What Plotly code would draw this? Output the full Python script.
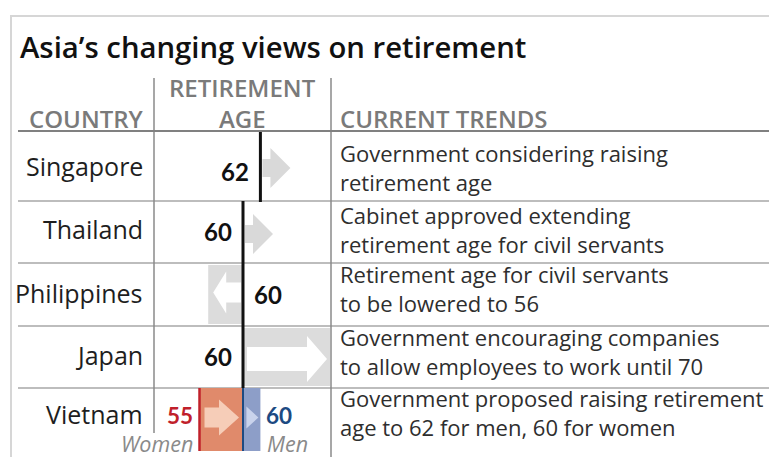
import plotly.graph_objects as go

# ---- data -------------------------------------------------------------
countries = ["Singapore", "Thailand", "Philippines", "Japan", "Vietnam"]
retirement_age = [62, 60, 60, 60, 60]          # Vietnam: men
proposed_age = [None, None, 56, 70, 62]        # None = raise under discussion, no figure
vietnam_women_age = 55
vietnam_women_proposed = 60
trends = [
    "Government considering raising<br>retirement age",
    "Cabinet approved extending<br>retirement age for civil servants",
    "Retirement age for civil servants<br>to be lowered to 56",
    "Government encouraging companies<br>to allow employees to work until 70",
    "Government proposed raising retirement<br>age to 62 for men, 60 for women",
]

# ---- layout constants (pixels) ----------------------------------------
W, H = 769, 457
FONT = "Open Sans"
NUM_FONT = "Lato"
row_edges = [131, 201, 263, 326, 388, 451]
label_y = [166, 229, 293, 355, 414]
value_y = [171, 231, 294, 356, 415]
trend_y = [167.5, 229.5, 288.5, 351.5, 412.5]
COL1, COL2 = 154, 331
AGE_REF, AGE_REF_PX, PX_PER_YEAR = 60, 243, 8.7
age_range = [AGE_REF - (AGE_REF_PX - COL1) / PX_PER_YEAR,
             AGE_REF + (COL2 - AGE_REF_PX) / PX_PER_YEAR]

GRAY_BOX = "#dcdcdc"
GRAY_ARROW = "#d9d9d9"
ORANGE = "#e08a6b"
PEACH = "#f6cdb8"
BLUE_BOX = "#8d9ec8"
LIGHT_BLUE = "#c9d3ec"
RED = "#c0202a"
NAVY = "#1d4a82"


def px(x):
    return x / W


def yrs(p):
    return p / PX_PER_YEAR


def arrow(x0, x1, yc, stem=10, head=21, head_len=18):
    """Block arrow from age x0 to age x1 centred on pixel row yc."""
    d = 1 if x1 > x0 else -1
    xb = x1 - d * yrs(head_len)
    xs = [x0, xb, xb, x1, xb, xb, x0, x0]
    ys = [yc - stem, yc - stem, yc - head, yc, yc + head, yc + stem, yc + stem, yc - stem]
    return xs, ys


fig = go.Figure()
shapes = []
ann = []


def add_bar(start, end, yc, height, color):
    fig.add_trace(go.Bar(orientation="h", base=[start], x=[end - start], y=[yc],
                         width=[height], marker=dict(color=color, line=dict(width=0)),
                         hoverinfo="skip", showlegend=False))


def add_arrow(xs, ys, color):
    fig.add_trace(go.Scatter(x=xs, y=ys, mode="lines", fill="toself", fillcolor=color,
                             line=dict(width=0, color=color), hoverinfo="skip",
                             showlegend=False))


for i, name in enumerate(countries):
    top, bot = row_edges[i], row_edges[i + 1]
    yc = (top + bot) / 2
    cur = retirement_age[i]
    new = proposed_age[i]

    if name == "Vietnam":
        add_bar(vietnam_women_age, vietnam_women_proposed, yc, bot - top, ORANGE)
        add_bar(cur, new, yc, bot - top, BLUE_BOX)
        xs, ys = arrow(vietnam_women_age + yrs(5), vietnam_women_proposed - yrs(4), yc - 2,
                       stem=10, head=18, head_len=20)
        add_arrow(xs, ys, PEACH)
        xs, ys = arrow(cur + yrs(3), new - yrs(2), yc - 2, stem=0, head=11, head_len=12)
        add_arrow(xs, ys, LIGHT_BLUE)
        shapes.append(dict(type="line", xref="x", yref="y", x0=vietnam_women_age,
                           x1=vietnam_women_age, y0=top, y1=bot,
                           line=dict(color=RED, width=2.5)))
        shapes.append(dict(type="line", xref="x", yref="y", x0=cur, x1=cur, y0=top, y1=bot,
                           line=dict(color=NAVY, width=2)))
        ann += [
            dict(x=vietnam_women_age, y=value_y[i], xref="x", yref="y", xshift=-6,
                 xanchor="right", yanchor="middle", text=f"<b>{vietnam_women_age}</b>",
                 font=dict(family=NUM_FONT, size=22.5, color=RED), showarrow=False,
                 borderpad=0),
            dict(x=new, y=value_y[i], xref="x", yref="y", xshift=5,
                 xanchor="left", yanchor="middle", text=f"<b>{cur}</b>",
                 font=dict(family=NUM_FONT, size=22.5, color=NAVY), showarrow=False,
                 borderpad=0),
            dict(x=vietnam_women_age, y=443, xref="x", yref="y", xshift=-6,
                 xanchor="right", yanchor="middle", text="<i>Women</i>",
                 font=dict(family=FONT, size=21.5, color="#8a8a8a"), showarrow=False,
                 borderpad=0),
            dict(x=new, y=443, xref="x", yref="y", xshift=6,
                 xanchor="left", yanchor="middle", text="<i>Men</i>",
                 font=dict(family=FONT, size=21.5, color="#8a8a8a"), showarrow=False,
                 borderpad=0),
        ]
    else:
        if new is None:
            xs, ys = arrow(cur + yrs(2), cur + yrs(30), yc + 2, stem=9, head=20, head_len=20)
            add_arrow(xs, ys, GRAY_ARROW)
        elif new > cur:
            add_bar(cur, new, yc, bot - top - 4, GRAY_BOX)
            xs, ys = arrow(cur + yrs(4), new - yrs(3), yc + 2, stem=12, head=23, head_len=20)
            add_arrow(xs, ys, "white")
        else:
            add_bar(new, cur, yc, bot - top - 4, GRAY_BOX)
            xs, ys = arrow(cur - yrs(2), new + yrs(5), yc - 2, stem=10, head=21, head_len=13)
            add_arrow(xs, ys, "white")

        shapes.append(dict(type="line", xref="x", yref="y", x0=cur, x1=cur,
                           y0=top, y1=bot + (1 if i == 0 else 0),
                           line=dict(color="#111111", width=3)))
        falling = new is not None and new < cur
        ann.append(dict(x=cur, y=value_y[i], xref="x", yref="y",
                        xshift=9 if falling else -9,
                        xanchor="left" if falling else "right", yanchor="middle",
                        text=f"<b>{cur}</b>",
                        font=dict(family=NUM_FONT, size=24, color="#111111"),
                        showarrow=False))

    ann.append(dict(x=px(145), y=label_y[i], xref="paper", yref="y", xanchor="right",
                    yanchor="middle", text=name, showarrow=False,
                    font=dict(family=FONT, size=25, color="#1e1e1e")))
    ann.append(dict(x=px(339), y=trend_y[i], xref="paper", yref="y",
                    xanchor="left", yanchor="middle", align="left", text=trends[i],
                    showarrow=False, borderpad=0,
                    font=dict(family=FONT, size=22, color="#2e2e2e")))

# ---- table rules --------------------------------------------------------
shapes.append(dict(type="rect", xref="paper", yref="y", x0=px(11), x1=px(790), y0=16, y1=480,
                   line=dict(color="#d6d6d6", width=2), layer="below"))
for y in row_edges[1:-1]:
    shapes.append(dict(type="line", xref="paper", yref="y", x0=px(18), x1=1, y0=y, y1=y,
                       line=dict(color="#bdbdbd", width=2), layer="below"))
shapes.append(dict(type="line", xref="paper", yref="y", x0=px(18), x1=1,
                   y0=row_edges[0], y1=row_edges[0], line=dict(color="#808080", width=2)))
shapes.append(dict(type="line", xref="paper", yref="y", x0=px(COL1), x1=px(COL1), y0=78, y1=433,
                   line=dict(color="#8a8a8a", width=1.5), layer="below"))
shapes.append(dict(type="line", xref="paper", yref="y", x0=px(COL2), x1=px(COL2), y0=78, y1=460,
                   line=dict(color="#8a8a8a", width=1.5), layer="below"))

# ---- headings -------------------------------------------------------------
head_font = dict(family=FONT, size=24, color="#7a7a7a", weight=600)
ann += [
    dict(x=px(18), y=47, xref="paper", yref="y", xanchor="left", yanchor="middle",
         text="Asia’s changing views on retirement", showarrow=False,
         font=dict(family=FONT, size=29.3, color="#111111", weight=600)),
    dict(x=px(145), y=118, xref="paper", yref="y", xanchor="right", yanchor="middle",
         text="COUNTRY", showarrow=False, font=head_font, borderpad=0),
    dict(x=px(242), y=87, xref="paper", yref="y", xanchor="center", yanchor="middle",
         text="RETIREMENT", showarrow=False, font=head_font, borderpad=0),
    dict(x=px(242), y=118.5, xref="paper", yref="y", xanchor="center", yanchor="middle",
         text="AGE", showarrow=False, font=head_font, borderpad=0),
    dict(x=px(339), y=118, xref="paper", yref="y", xanchor="left", yanchor="middle",
         text="CURRENT TRENDS", showarrow=False, font=head_font, borderpad=0),
]

fig.update_layout(
    width=W, height=H, margin=dict(l=0, r=0, t=0, b=0),
    paper_bgcolor="white", plot_bgcolor="rgba(0,0,0,0)",
    barmode="overlay", showlegend=False,
    xaxis=dict(domain=[px(COL1), px(COL2)], range=age_range, visible=False,
               fixedrange=True),
    yaxis=dict(domain=[0, 1], range=[H, 0], visible=False, fixedrange=True),
    shapes=shapes, annotations=ann,
)

fig.write_html("out.html", config={"displayModeBar": False})
